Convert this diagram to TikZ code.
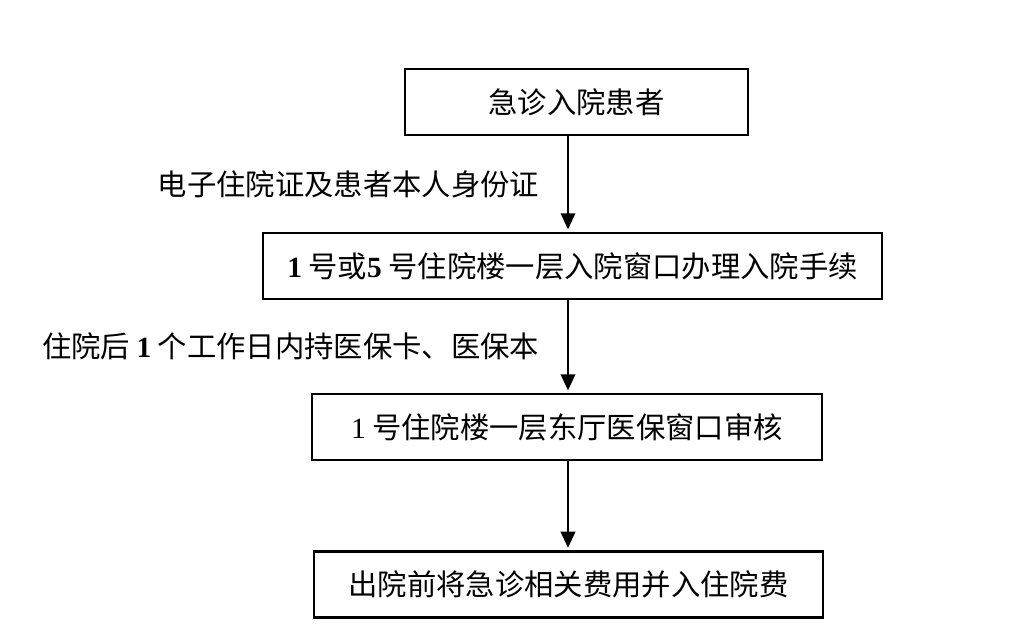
\documentclass[tikz,border=0pt]{standalone}
\usepackage{fontspec}
\setmainfont{Liberation Serif}
\newfontfamily\cjk{Noto Sans CJK SC}
\usetikzlibrary{positioning,arrows.meta}
\newcommand{\bnum}[1]{{\rmfamily\bfseries #1}}
\newcommand{\rnum}[1]{{\rmfamily #1}}

\begin{document}
\begin{tikzpicture}[x=0.75pt, y=-0.75pt, on grid, font=\cjk\fontsize{22}{26}\selectfont,
	box/.style={draw, line width=1.6pt, minimum height=49.5pt, inner sep=0pt},
	arr/.style={-{Triangle[length=12pt, width=11pt]}, line width=1.2pt, shorten >=2pt},
	lbl/.style={inner sep=0pt, midway}]
	\useasboundingbox (0,0) rectangle (1023,626);
	\coordinate (ax) at (568,0);
	
	\node[box, minimum width=257.25pt] (b1) at (576.5,102) {急诊入院患者};
	\node[box, minimum width=464.25pt, below=123pt of b1, xshift=-3pt] (b2) {\bnum{1} 号或\bnum{5} 号住院楼一层入院窗口办理入院手续};
	\node[box, minimum width=382.5pt, below=120.75pt of b2, xshift=-4.1pt] (b3) {\rnum{1} 号住院楼一层东厅医保窗口审核};
	\node[box, minimum width=381.75pt, below=118.1pt of b3, xshift=1.1pt] (b4) {出院前将急诊相关费用并入住院费};
	
	\draw[arr] (b1.south -| ax) -- node[lbl, left=21pt]{电子住院证及患者本人身份证} (b2.north -| ax);
	\draw[arr] (b2.south -| ax) -- node[lbl, left=21pt]{住院后 \bnum{1} 个工作日内持医保卡、医保本} (b3.north -| ax);
	\draw[arr] (b3.south -| ax) -- (b4.north -| ax);
\end{tikzpicture}
\end{document}
